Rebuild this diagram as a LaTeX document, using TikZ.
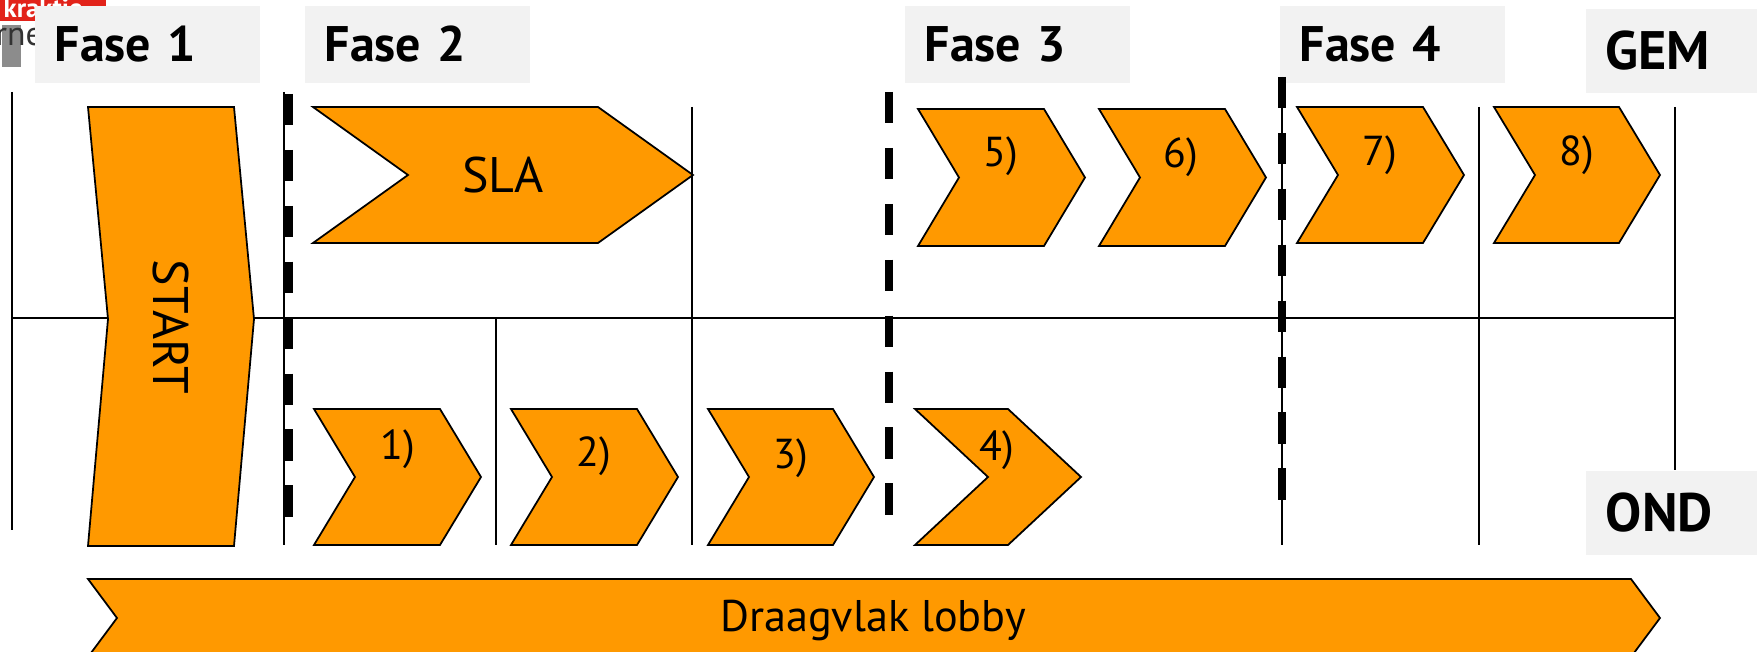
\documentclass[tikz,border=0pt]{standalone}
\usepackage{fontspec}
\setmainfont{PT Sans}
\definecolor{oranje}{HTML}{FF9900}
\definecolor{lichtgrijs}{HTML}{F2F2F2}
\definecolor{logorood}{HTML}{E2231A}
\newcommand\chev[9]{\draw[pijl] (#2,#5) -- (#3,#5) -- (#3+#4,{(#5+#6)/2}) -- (#3,#6) -- (#2,#6) -- (#2+#4,{(#5+#6)/2}) -- cycle;
  \node(#1)[nummer] at (#7,#8) {#9};}

\begin{document}
\begin{tikzpicture}[x=0.01cm,y=-0.01cm,
    pijl/.style={fill=oranje,draw=black,line width=0.5pt},
    nummer/.style={anchor=base,inner sep=0pt,font=\fontsize{11.9}{14}\selectfont},
    fase/.style={anchor=north west,fill=lichtgrijs,minimum height=0.77cm,text width=1.85cm,
        inner xsep=0.2cm,inner ysep=0pt,align=left,font=\bfseries\fontsize{14.2}{17}\selectfont},
    gemond/.style={fase,minimum height=0.84cm,text width=1.32cm,font=\bfseries\fontsize{15.4}{18}\selectfont},
    lijn/.style={line width=0.5pt},
    streep/.style={line width=2.2pt,dash pattern=on 8.9pt off 7pt}]
    \useasboundingbox (0,0) rectangle (1757,652);
    % logo, grotendeels achter fase 1
    \fill[logorood] (0,0) rectangle (106,21);
    \node(logo)[anchor=base west,inner sep=0pt,text=white,font=\bfseries\fontsize{7.6}{9}\selectfont] at (3,18) {kraktie};
    \fill[black!45] (2,25) rectangle (21,67);
    \node(logotekst)[anchor=base west,inner sep=0pt,text=black!80,font=\fontsize{9.6}{11}\selectfont] at (-5,46) {rne};
    % fasen
    \node(fase1)[fase] at (34,5) {Fase 1};
    \node(fase2)[fase] at (304,5) {Fase 2};
    \node(fase3)[fase] at (904,5) {Fase 3};
    \node(fase4)[fase] at (1279,5) {Fase 4};
    \node(gem)[gemond] at (1585,8) {GEM};
    \node(ond)[gemond] at (1585,470) {OND};
    % raster
    \draw[lijn] (12,92) -- (12,530);
    \draw[lijn] (12,318) -- (1675,318);
    \draw[lijn] (496,318) -- (496,545);
    \draw[lijn] (692,107) -- (692,545);
    \draw[lijn] (1479,107) -- (1479,545);
    \draw[lijn] (1675,107) -- (1675,470);
    \draw[lijn] (284,92) -- (284,545);
    \draw[lijn] (1282,77) -- (1282,545);
    \draw[streep] (289,94) -- (289,520);
    \draw[streep] (889,92) -- (889,517);
    \draw[streep] (1282,77) -- (1282,501);
    % START
    \draw[pijl] (88,107) -- (234,107) -- (254,319) -- (234,546) -- (88,546) -- (108,319) -- cycle;
    \node(start)[rotate=-90,inner sep=0pt,font=\fontsize{14.2}{17}\selectfont] at (171,327) {START};
    % stappen
    \chev{sla}{313}{598}{95}{107}{243}{503}{193}{\fontsize{14.2}{17}\selectfont SLA}
    \chev{s1}{314}{440}{41}{409}{545}{398}{460}{1)}
    \chev{s2}{511}{637}{41}{409}{545}{594}{467}{2)}
    \chev{s3}{708}{833}{41}{409}{545}{791}{469}{3)}
    \chev{s4}{915}{1008}{73}{409}{545}{997}{461}{4)}
    \chev{s5}{918}{1044}{41}{109}{246}{1001}{167}{5)}
    \chev{s6}{1099}{1225}{41}{109}{246}{1181}{168}{6)}
    \chev{s7}{1297}{1423}{41}{107}{243}{1380}{166}{7)}
    \chev{s8}{1494}{1619}{41}{107}{243}{1577}{166}{8)}
    \chev{draagvlak}{88}{1631}{29}{579}{657}{873}{632}{\fontsize{12.6}{15}\selectfont Draagvlak lobby}
\end{tikzpicture}
\end{document}
